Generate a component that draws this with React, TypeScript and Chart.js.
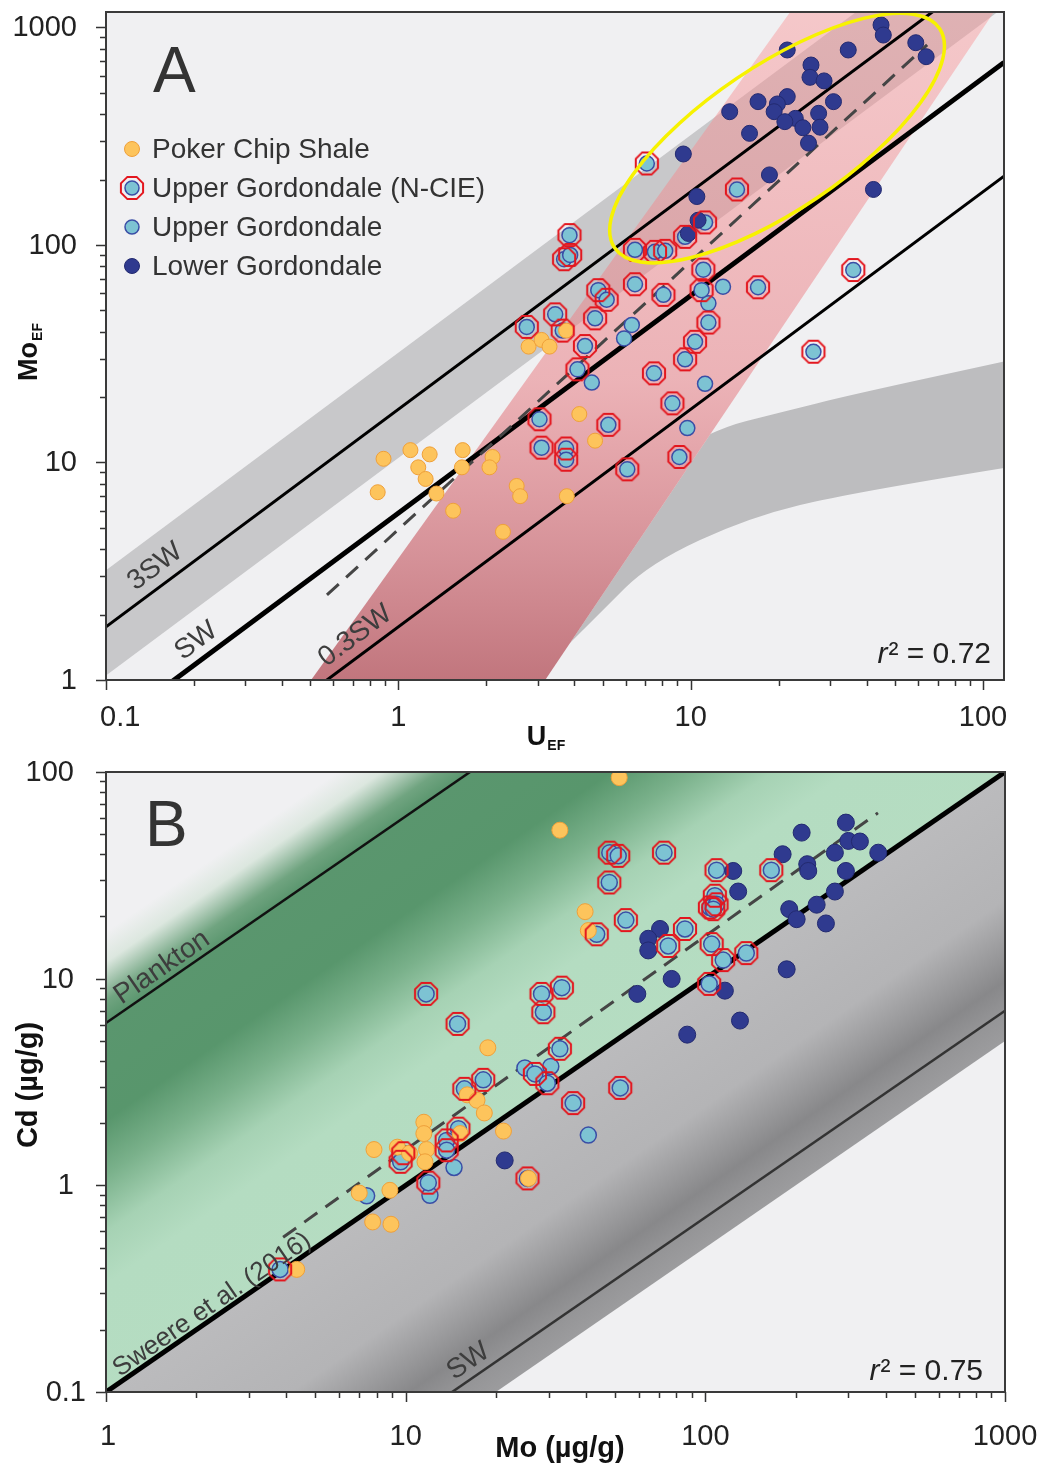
import { useEffect, useRef } from 'react';
import { Chart, registerables } from 'chart.js';

Chart.register(...registerables);

type Pt = [number, number];

// ---------------- Panel A: Mo_EF vs U_EF ----------------
const pokerChipA: Pt[] = [
  [0.89, 10.4], [1.1, 11.4], [1.28, 10.9], [1.66, 11.4], [1.17, 9.5], [1.24, 8.4], [0.85, 7.3],
  [1.35, 7.2], [1.65, 9.5], [2.1, 10.6], [2.05, 9.5], [2.54, 7.8], [2.61, 7.0], [1.54, 6.0],
  [2.28, 4.8], [3.77, 7.0], [4.16, 16.7], [4.71, 12.6], [3.75, 40.4], [2.79, 34.1], [3.09, 36.6],
  [3.29, 34.1],
];
const upperNcieA: Pt[] = [
  [3.85, 111], [3.69, 86], [3.87, 90], [6.45, 95], [7.55, 93], [8.18, 94], [9.57, 109], [11.2, 127],
  [11.05, 77], [6.45, 66], [4.83, 62], [5.16, 56], [8.07, 59], [10.9, 62], [11.5, 44], [3.44, 48],
  [2.75, 42], [3.65, 40.4], [4.71, 46], [4.35, 34.3], [4.1, 26.8], [7.49, 25.7], [10.35, 35.9],
  [9.57, 29.8], [8.66, 18.7], [3.04, 15.8], [5.23, 14.9], [3.09, 11.7], [3.75, 11.6], [3.75, 10.3],
  [6.07, 9.3], [9.15, 10.6], [17.0, 63.9], [7.08, 237], [14.4, 180], [36.0, 76.7], [26.3, 32.3],
];
const upperA: Pt[] = [
  [12.9, 64.3], [11.5, 53.9], [6.29, 42.9], [5.92, 37.2], [4.59, 23.3], [11.2, 23.0], [9.74, 14.4],
];
const lowerA: Pt[] = [
  [44.8, 1027], [45.6, 923], [58.9, 851], [63.9, 734], [21.4, 788], [34.6, 788], [25.8, 672],
  [25.6, 590], [28.6, 568], [17.0, 456], [21.4, 481], [19.8, 445], [19.3, 410], [30.8, 456],
  [13.6, 410], [22.8, 382], [21.0, 369], [27.4, 403], [27.7, 348], [24.2, 346], [15.9, 326],
  [25.3, 294], [9.44, 262], [18.6, 210], [42.2, 180], [10.5, 167], [10.6, 130], [9.82, 113],
];
const trendA: Pt[] = [[0.57, 2.46], [64.4, 831]];
const swMoU = 5.85; // seawater Mo_EF/U_EF
const swMultiples = [3, 1, 0.3];
const shuttleBandA = { upper: 32, lower: 10.5 };
const marineBandA: Pt[] = [[0.503, 1], [21.9, 1178], [109, 1178], [3.18, 1]];
const curvedUpperA: Pt[] = [[2.0, 1], [2.9, 2.4], [4.9, 7.0], [11.65, 14.1], [20.7, 17.1], [35.1, 20.4], [118, 29.1]];
const curvedLowerA: Pt[] = [[2.82, 1], [3.3, 1.2], [4.9, 2.03], [7.26, 3.45], [15.97, 5.62], [35.1, 7.24], [118, 9.43]];
const euxinicCenterA: Pt = [19.75, 310];
const xRangeA: Pt = [0.1, 118];
const yRangeA: Pt = [1, 1178];
const xTicksA = [0.1, 1, 10, 100];
const yTicksA = [1, 10, 100, 1000];

// ---------------- Panel B: Cd vs Mo ----------------
const pokerChipB: Pt[] = [
  [51.6, 93.9], [32.7, 52.3], [39.7, 21.1], [40.7, 17.1], [18.8, 4.63], [16.05, 2.74], [17.3, 2.58],
  [18.3, 2.24], [11.5, 2.02], [11.5, 1.78], [11.75, 1.49], [11.6, 1.3], [7.84, 1.49], [9.38, 1.53],
  [10.3, 1.43], [15.2, 1.78], [21.2, 1.83], [25.7, 1.08], [8.86, 0.946], [7.0, 0.918], [7.76, 0.665],
  [8.93, 0.648], [4.33, 0.392],
];
const upperNcieB: Pt[] = [
  [48.0, 40.7], [51.2, 39.3], [47.8, 29.2], [72.8, 40.7], [54.3, 19.2], [43.4, 16.4], [109, 33.5],
  [166, 33.5], [107.6, 25.2], [103.6, 22.1], [109, 22.9], [106.3, 21.7], [85.5, 17.4], [75.2, 14.4],
  [105, 14.7], [114.7, 12.3], [137, 13.3], [103, 9.43], [33.2, 9.05], [32.7, 4.58], [52.0, 2.96],
  [11.7, 8.44], [14.9, 6.04], [15.7, 2.93], [18.15, 3.24], [28.4, 8.44], [28.8, 6.88], [27.0, 3.46],
  [29.7, 3.12], [36.2, 2.5], [15.0, 1.88], [13.7, 1.65], [13.7, 1.48], [9.82, 1.43], [9.62, 1.3],
  [11.9, 1.03], [25.5, 1.08], [3.81, 0.392],
];
const upperB: Pt[] = [
  [25.0, 3.7], [30.5, 3.76], [14.5, 1.22], [12.05, 0.895], [40.7, 1.75], [7.41, 0.89],
];
const lowerB: Pt[] = [
  [294.5, 56.9], [209.6, 50.9], [300, 46.4], [328, 46.1], [270.6, 40.7], [377.6, 40.7], [181.1, 40.0],
  [218.8, 35.8], [220.5, 33.2], [123.9, 33.2], [294.5, 33.2], [128.7, 26.4], [270.6, 26.4],
  [190.5, 21.7], [235.2, 22.8], [201.7, 19.4], [252.6, 18.5], [70.6, 17.4], [64.5, 15.6], [64.5, 13.7],
  [186.8, 11.1], [77.2, 9.97], [59.3, 8.44], [116.2, 8.75], [130.5, 6.27], [87.0, 5.36], [21.4, 1.32],
];
const trendB: Pt[] = [[3.9, 0.561], [376.7, 63.4]];
const planktonCdMo = 6.1;
const sweereCdMo = 0.1;
const swCdMo = 0.007;
const swFieldLowerCdMo = 0.005;
const xRangeB: Pt = [1, 1000];
const yRangeB: Pt = [0.1, 100];
const xTicksB = [1, 10, 100, 1000];
const yTicksB = [0.1, 1, 10, 100];

// ---------------- styling ----------------
const FONT = '"Liberation Sans", Arial, Helvetica, sans-serif';
const BG = '#f0f0f2';
const INK = '#333333';
const C = {
  orange: '#fdc45c', orangeEdge: '#efa03a',
  blue: '#7dc3d3', blueEdge: '#3a4ea6',
  navy: '#2f3a8f', navyEdge: '#232a70',
  red: '#e3161e',
};

function makeOctagon(r: number, lw: number, color: string) {
  const s = Math.ceil(2 * (r + lw)) + 2;
  const c = document.createElement('canvas');
  c.width = s;
  c.height = s;
  const g = c.getContext('2d')!;
  g.translate(s / 2, s / 2);
  g.beginPath();
  for (let i = 0; i < 8; i++) {
    const t = Math.PI / 8 + (i * Math.PI) / 4;
    const x = r * Math.cos(t);
    const y = r * Math.sin(t);
    if (i) g.lineTo(x, y); else g.moveTo(x, y);
  }
  g.closePath();
  g.strokeStyle = color;
  g.lineWidth = lw;
  g.stroke();
  return c;
}

const xy = (pts: Pt[]) => pts.map(([x, y]) => ({ x, y }));

function dots(pts: Pt[], fill: string, edge: string, r: number, bw: number, style: any = 'circle') {
  return {
    type: 'scatter',
    data: xy(pts),
    pointStyle: style,
    pointRadius: r,
    pointHoverRadius: r,
    backgroundColor: fill,
    borderColor: edge,
    borderWidth: bw,
    showLine: false,
  };
}

function refLine(pts: Pt[], width: number, color: string, dash: number[] = []) {
  return {
    type: 'line',
    data: xy(pts),
    borderColor: color,
    borderWidth: width,
    borderDash: dash,
    pointRadius: 0,
    pointHoverRadius: 0,
    fill: false,
    tension: 0,
  };
}

const ratioLine = (range: Pt, k: number): Pt[] => [[range[0], range[0] * k], [range[1], range[1] * k]];

function P(chart: any, x: number, y: number) {
  return { x: chart.scales.x.getPixelForValue(x), y: chart.scales.y.getPixelForValue(y) };
}

function polyPath(ctx: CanvasRenderingContext2D, pts: { x: number; y: number }[], fresh = true) {
  if (fresh) ctx.beginPath();
  pts.forEach((p, i) => (i ? ctx.lineTo(p.x, p.y) : ctx.moveTo(p.x, p.y)));
  ctx.closePath();
}

function smoothTo(ctx: CanvasRenderingContext2D, pts: { x: number; y: number }[], start: boolean) {
  if (start) ctx.moveTo(pts[0].x, pts[0].y); else ctx.lineTo(pts[0].x, pts[0].y);
  for (let i = 1; i < pts.length - 1; i++) {
    const mx = (pts[i].x + pts[i + 1].x) / 2;
    const my = (pts[i].y + pts[i + 1].y) / 2;
    ctx.quadraticCurveTo(pts[i].x, pts[i].y, mx, my);
  }
  const l = pts[pts.length - 1];
  ctx.lineTo(l.x, l.y);
}

function clipArea(chart: any) {
  const { ctx, chartArea: a } = chart;
  ctx.beginPath();
  ctx.rect(a.left, a.top, a.right - a.left, a.bottom - a.top);
  ctx.clip();
}

// unit vectors along and below a slope-1 log-log line, in pixels
function lineFrame(chart: any, x0: number, k: number) {
  const p1 = P(chart, x0, x0 * k);
  const p2 = P(chart, x0 * 10, x0 * 10 * k);
  const dx = p2.x - p1.x;
  const dy = p2.y - p1.y;
  const len = Math.hypot(dx, dy);
  return { p: p1, dir: { x: dx / len, y: dy / len }, n: { x: -dy / len, y: dx / len }, angle: Math.atan2(dy, dx) };
}

function lineLabel(chart: any, text: string, xVal: number, k: number, offset: number, size = 26) {
  const { ctx } = chart;
  const f = lineFrame(chart, xVal, k);
  ctx.save();
  ctx.translate(f.p.x, f.p.y);
  ctx.rotate(f.angle);
  ctx.font = `${size}px ${FONT}`;
  ctx.fillStyle = '#3d3d3d';
  ctx.textAlign = 'center';
  ctx.textBaseline = 'middle';
  ctx.fillText(text, 0, -offset);
  ctx.restore();
}

function minorMajor(min: number, max: number) {
  const out: { v: number; major: boolean }[] = [];
  for (let d = Math.floor(Math.log10(min)) - 1; d <= Math.ceil(Math.log10(max)); d++) {
    for (let m = 1; m < 10; m++) {
      const v = m * Math.pow(10, d);
      if (v >= min * 0.999 && v <= max * 1.001) out.push({ v, major: m === 1 });
    }
  }
  return out;
}

function drawAxes(chart: any, xLabels: number[], yLabels: number[], o: { xLabelDy: number; yLabelGap: number; yNudge?: Record<string, number> }) {
  const { ctx, chartArea: a } = chart;
  const xs = chart.scales.x;
  const ys = chart.scales.y;
  ctx.save();
  ctx.strokeStyle = INK;
  ctx.lineWidth = 1.5;
  ctx.beginPath();
  for (const t of minorMajor(xs.min, xs.max)) {
    const x = Math.round(xs.getPixelForValue(t.v)) + 0.5;
    ctx.moveTo(x, a.bottom);
    ctx.lineTo(x, a.bottom + (t.major ? 10 : 6));
  }
  for (const t of minorMajor(ys.min, ys.max)) {
    const y = Math.round(ys.getPixelForValue(t.v)) + 0.5;
    ctx.moveTo(a.left, y);
    ctx.lineTo(a.left - (t.major ? 10 : 6), y);
  }
  ctx.stroke();
  ctx.lineWidth = 2;
  ctx.strokeStyle = '#3a3a3a';
  ctx.strokeRect(a.left, a.top, a.right - a.left, a.bottom - a.top);

  ctx.fillStyle = '#222';
  ctx.font = `29px ${FONT}`;
  ctx.textBaseline = 'middle';
  ctx.textAlign = 'center';
  for (const v of xLabels) {
    const s = String(v);
    const w = ctx.measureText(s).width;
    const x = Math.max(xs.getPixelForValue(v), a.left - 6 + w / 2);
    ctx.fillText(s, x, a.bottom + o.xLabelDy);
  }
  ctx.textAlign = 'right';
  for (const v of yLabels) {
    const s = String(v);
    const nudge = (o.yNudge && o.yNudge[s]) || 0;
    ctx.fillText(s, a.left - o.yLabelGap + nudge, ys.getPixelForValue(v) + 1);
  }
  ctx.restore();
}

// bold text with an optional bold subscript, centred on (0,0) baseline
function subText(ctx: CanvasRenderingContext2D, main: string, sub: string, size: number) {
  ctx.font = `bold ${size}px ${FONT}`;
  const w1 = ctx.measureText(main).width;
  ctx.font = `bold ${Math.round(size * 0.52)}px ${FONT}`;
  const w2 = sub ? ctx.measureText(sub).width + 1 : 0;
  const x0 = -(w1 + w2) / 2;
  ctx.textAlign = 'left';
  ctx.textBaseline = 'alphabetic';
  ctx.font = `bold ${size}px ${FONT}`;
  ctx.fillText(main, x0, 0);
  if (sub) {
    ctx.font = `bold ${Math.round(size * 0.52)}px ${FONT}`;
    ctx.fillText(sub, x0 + w1 + 1, 5);
  }
}

function rSquared(ctx: CanvasRenderingContext2D, value: string, right: number, base: number) {
  ctx.save();
  ctx.fillStyle = '#222';
  ctx.textBaseline = 'alphabetic';
  ctx.textAlign = 'left';
  ctx.font = `30px ${FONT}`;
  const rest = `\u00b2 = ${value}`;
  const w2 = ctx.measureText(rest).width;
  ctx.font = `italic 30px ${FONT}`;
  const w1 = ctx.measureText('r').width;
  const x0 = right - w1 - w2;
  ctx.fillText('r', x0, base);
  ctx.font = `30px ${FONT}`;
  ctx.fillText(rest, x0 + w1 + 1, base);
  ctx.restore();
}

function panelLetter(ctx: CanvasRenderingContext2D, s: string, x: number, y: number) {
  ctx.save();
  ctx.fillStyle = INK;
  ctx.font = `64px ${FONT}`;
  ctx.textAlign = 'left';
  ctx.textBaseline = 'alphabetic';
  ctx.fillText(s, x, y);
  ctx.restore();
}

function circle(ctx: CanvasRenderingContext2D, x: number, y: number, r: number, fill: string, edge: string, lw: number) {
  ctx.beginPath();
  ctx.arc(x, y, r, 0, Math.PI * 2);
  ctx.fillStyle = fill;
  ctx.fill();
  ctx.lineWidth = lw;
  ctx.strokeStyle = edge;
  ctx.stroke();
}

function baseOptions(xr: Pt, yr: Pt, pad: any, xH: number, yW: number) {
  return {
    responsive: false,
    animation: false,
    events: [],
    layout: { padding: pad },
    plugins: { legend: { display: false }, tooltip: { enabled: false } },
    scales: {
      x: {
        type: 'logarithmic', min: xr[0], max: xr[1],
        grid: { display: false }, border: { display: false }, ticks: { display: false },
        afterFit: (s: any) => { s.height = xH; },
      },
      y: {
        type: 'logarithmic', min: yr[0], max: yr[1],
        grid: { display: false }, border: { display: false }, ticks: { display: false },
        afterFit: (s: any) => { s.width = yW; },
      },
    },
  };
}

function configA(oct: HTMLCanvasElement): any {
  const backdrop = {
    id: 'backdropA',
    beforeDatasetsDraw(chart: any) {
      const { ctx, chartArea: a } = chart;
      const [x0, x1] = xRangeA;
      const marine = marineBandA.map(([u, m]) => P(chart, u, m));
      ctx.save();
      clipArea(chart);
      ctx.fillStyle = BG;
      ctx.fillRect(a.left, a.top, a.right - a.left, a.bottom - a.top);

      // particulate-shuttle band around 3SW
      polyPath(ctx, [
        P(chart, x0, x0 * shuttleBandA.upper), P(chart, x1, x1 * shuttleBandA.upper),
        P(chart, x1, x1 * shuttleBandA.lower), P(chart, x0, x0 * shuttleBandA.lower),
      ]);
      ctx.fillStyle = '#c8c8ca';
      ctx.fill();

      // curved field at low Mo/U, kept outside the marine trend band
      ctx.save();
      ctx.beginPath();
      ctx.rect(a.left, a.top, a.right - a.left, a.bottom - a.top);
      polyPath(ctx, marine, false);
      ctx.clip('evenodd');
      const up = curvedUpperA.map(([u, m]) => P(chart, u, m));
      const lo = curvedLowerA.map(([u, m]) => P(chart, u, m)).reverse();
      ctx.beginPath();
      smoothTo(ctx, up, true);
      smoothTo(ctx, lo, false);
      ctx.closePath();
      ctx.fillStyle = '#bdbdbf';
      ctx.fill();
      ctx.restore();

      // unrestricted-marine trend band
      const g = ctx.createLinearGradient(0, a.bottom, 0, a.top);
      g.addColorStop(0, 'rgba(190,110,118,0.94)');
      g.addColorStop(0.18, 'rgba(205,118,126,0.78)');
      g.addColorStop(0.45, 'rgba(232,128,134,0.55)');
      g.addColorStop(1, 'rgba(250,150,152,0.45)');
      polyPath(ctx, marine);
      ctx.fillStyle = g;
      ctx.fill();
      ctx.restore();
    },
  };

  const overlay = {
    id: 'overlayA',
    afterDatasetsDraw(chart: any) {
      const { ctx, chartArea: a } = chart;
      ctx.save();
      clipArea(chart);
      // euxinic cluster outline
      const c = P(chart, euxinicCenterA[0], euxinicCenterA[1]);
      ctx.beginPath();
      ctx.ellipse(c.x, c.y, 196, 72, (-34 * Math.PI) / 180, 0, Math.PI * 2);
      ctx.strokeStyle = '#f7f200';
      ctx.lineWidth = 3.5;
      ctx.stroke();

      lineLabel(chart, '3SW', 0.161, swMoU * 3, 19, 28);
      lineLabel(chart, 'SW', 0.2216, swMoU, 18, 28);
      lineLabel(chart, '0.3SW', 0.777, swMoU * 0.3, 18.5, 28);
      ctx.restore();

      // legend
      const lx = a.left + 26;
      const tx = a.left + 46;
      const ly = a.top + 137;
      const step = 39;
      ctx.save();
      circle(ctx, lx, ly, 7.5, C.orange, C.orangeEdge, 1);
      circle(ctx, lx, ly + step, 7, C.blue, C.blueEdge, 1.5);
      ctx.drawImage(oct, lx - oct.width / 2, ly + step - oct.height / 2);
      circle(ctx, lx, ly + 2 * step, 7, C.blue, C.blueEdge, 1.5);
      circle(ctx, lx, ly + 3 * step, 7.5, C.navy, C.navyEdge, 1);
      ctx.fillStyle = INK;
      ctx.font = `28px ${FONT}`;
      ctx.textAlign = 'left';
      ctx.textBaseline = 'middle';
      ['Poker Chip Shale', 'Upper Gordondale (N-CIE)', 'Upper Gordondale', 'Lower Gordondale'].forEach((s, i) => {
        ctx.fillText(s, tx, ly + i * step + 1);
      });
      ctx.restore();

      rSquared(ctx, '0.72', a.right - 14, a.bottom - 17);
      panelLetter(ctx, 'A', a.left + 47, a.top + 80);
    },
    afterDraw(chart: any) {
      const { ctx, chartArea: a } = chart;
      drawAxes(chart, xTicksA, yTicksA, { xLabelDy: 38, yLabelGap: 29 });
      ctx.save();
      ctx.fillStyle = '#111';
      ctx.translate(546, a.bottom + 65);
      subText(ctx, 'U', 'EF', 27);
      ctx.restore();
      ctx.save();
      ctx.fillStyle = '#111';
      ctx.translate(37, (a.top + a.bottom) / 2 + 6);
      ctx.rotate(-Math.PI / 2);
      subText(ctx, 'Mo', 'EF', 27);
      ctx.restore();
    },
  };

  const [x0, x1] = xRangeA;
  return {
    type: 'scatter',
    data: {
      datasets: [
        dots(upperNcieA, 'rgba(0,0,0,0)', 'rgba(0,0,0,0)', 12, 0, oct),
        dots(lowerA, C.navy, C.navyEdge, 8, 1),
        dots(pokerChipA, C.orange, C.orangeEdge, 7.5, 1),
        dots(upperNcieA, C.blue, C.blueEdge, 7.5, 1.5),
        dots(upperA, C.blue, C.blueEdge, 7.5, 1.5),
        refLine(trendA, 3, '#454545', [16, 10]),
        refLine(ratioLine([x0, x1], swMoU * swMultiples[0]), 3, '#000'),
        refLine(ratioLine([x0, x1], swMoU * swMultiples[1]), 5, '#000'),
        refLine(ratioLine([x0, x1], swMoU * swMultiples[2]), 3, '#000'),
      ],
    },
    options: baseOptions(xRangeA, yRangeA, { top: 12, right: 37, left: 0, bottom: 0 }, 80, 106),
    plugins: [backdrop, overlay],
  };
}

function configB(oct: HTMLCanvasElement): any {
  const greenStops: [number, string][] = [
    [-75, 'rgb(240,240,242)'],
    [-50, 'rgb(220,231,223)'],
    [-18, 'rgb(112,164,128)'],
    [0, 'rgb(90,150,110)'],
    [80, 'rgb(88,150,108)'],
    [125, 'rgb(122,177,139)'],
    [172, 'rgb(166,210,180)'],
    [215, 'rgb(180,220,193)'],
    [400, 'rgb(182,221,194)'],
  ];
  const grayStops: [number, string][] = [
    [0, 'rgb(187,187,189)'],
    [105, 'rgb(180,180,182)'],
    [148, 'rgb(152,152,154)'],
    [172, 'rgb(136,136,138)'],
    [196, 'rgb(148,148,150)'],
    [225, 'rgb(157,157,159)'],
  ];

  const backdrop = {
    id: 'backdropB',
    beforeDatasetsDraw(chart: any) {
      const { ctx, chartArea: a } = chart;
      const [x0, x1] = xRangeB;
      const [, y1] = yRangeB;
      ctx.save();
      clipArea(chart);
      ctx.fillStyle = BG;
      ctx.fillRect(a.left, a.top, a.right - a.left, a.bottom - a.top);

      // field above the Sweere et al. (2016) line, shaded toward the plankton ratio
      const pl = lineFrame(chart, x0, planktonCdMo);
      const dMin = greenStops[0][0];
      const dMax = greenStops[greenStops.length - 1][0];
      const gg = ctx.createLinearGradient(
        pl.p.x + pl.n.x * dMin, pl.p.y + pl.n.y * dMin,
        pl.p.x + pl.n.x * dMax, pl.p.y + pl.n.y * dMax,
      );
      greenStops.forEach(([d, col]) => gg.addColorStop((d - dMin) / (dMax - dMin), col));
      polyPath(ctx, [
        P(chart, x0, x0 * sweereCdMo), P(chart, x1, x1 * sweereCdMo), P(chart, x1, y1 * 10), P(chart, x0, y1 * 10),
      ]);
      ctx.fillStyle = gg;
      ctx.fill();

      // field between the Sweere line and the seawater band
      const sf = lineFrame(chart, x0, sweereCdMo);
      const eMax = grayStops[grayStops.length - 1][0];
      const g2 = ctx.createLinearGradient(sf.p.x, sf.p.y, sf.p.x + sf.n.x * eMax, sf.p.y + sf.n.y * eMax);
      grayStops.forEach(([e, col]) => g2.addColorStop(e / eMax, col));
      polyPath(ctx, [
        P(chart, x0, x0 * sweereCdMo), P(chart, x1, x1 * sweereCdMo),
        P(chart, x1, x1 * swFieldLowerCdMo), P(chart, x0, x0 * swFieldLowerCdMo),
      ]);
      ctx.fillStyle = g2;
      ctx.fill();
      ctx.restore();
    },
  };

  const overlay = {
    id: 'overlayB',
    afterDatasetsDraw(chart: any) {
      const { ctx, chartArea: a } = chart;
      ctx.save();
      clipArea(chart);
      lineLabel(chart, 'Plankton', 1.635, planktonCdMo, 14, 28);
      lineLabel(chart, 'Sweere et al. (2016)', 2.377, sweereCdMo, 11.5, 26);
      lineLabel(chart, 'SW', 17.36, swCdMo, 16, 28);
      ctx.restore();
      rSquared(ctx, '0.75', a.right - 23, a.bottom - 12);
      panelLetter(ctx, 'B', a.left + 39, a.top + 74);
    },
    afterDraw(chart: any) {
      const { ctx, chartArea: a } = chart;
      drawAxes(chart, xTicksB, yTicksB, { xLabelDy: 45, yLabelGap: 32, yNudge: { '0.1': 12 } });
      ctx.save();
      ctx.fillStyle = '#111';
      ctx.translate(560, a.bottom + 65);
      subText(ctx, 'Mo (\u00b5g/g)', '', 29);
      ctx.restore();
      ctx.save();
      ctx.fillStyle = '#111';
      ctx.translate(37, (a.top + a.bottom) / 2 + 3);
      ctx.rotate(-Math.PI / 2);
      subText(ctx, 'Cd (\u00b5g/g)', '', 29);
      ctx.restore();
    },
  };

  const [x0, x1] = xRangeB;
  return {
    type: 'scatter',
    data: {
      datasets: [
        dots(upperNcieB, 'rgba(0,0,0,0)', 'rgba(0,0,0,0)', 12, 0, oct),
        dots(pokerChipB, C.orange, C.orangeEdge, 8, 1),
        dots(lowerB, C.navy, C.navyEdge, 8.5, 1),
        dots(upperNcieB, C.blue, C.blueEdge, 8, 1.5),
        dots(upperB, C.blue, C.blueEdge, 8, 1.5),
        refLine(trendB, 3, '#454545', [16, 10]),
        refLine(ratioLine([x0, x1], planktonCdMo), 2.5, '#111'),
        refLine(ratioLine([x0, x1], sweereCdMo), 5, '#000'),
        refLine(ratioLine([x0, x1], swCdMo), 2.5, '#333'),
      ],
    },
    options: baseOptions(xRangeB, yRangeB, { top: 11, right: 36, left: 0, bottom: 0 }, 77, 106),
    plugins: [backdrop, overlay],
  };
}

export default function App() {
  const refA = useRef<HTMLCanvasElement>(null);
  const refB = useRef<HTMLCanvasElement>(null);

  useEffect(() => {
    const oct = makeOctagon(12, 2, C.red);
    const a = new Chart(refA.current!, configA(oct));
    const b = new Chart(refB.current!, configB(oct));
    return () => {
      a.destroy();
      b.destroy();
    };
  }, []);

  return (
    <div style={{ position: 'absolute', left: 0, top: 0, width: 1041, height: 1469, background: '#ffffff' }}>
      <canvas ref={refA} width={1041} height={760} style={{ position: 'absolute', left: 0, top: 0 }} />
      <canvas ref={refB} width={1041} height={709} style={{ position: 'absolute', left: 0, top: 760 }} />
    </div>
  );
}
